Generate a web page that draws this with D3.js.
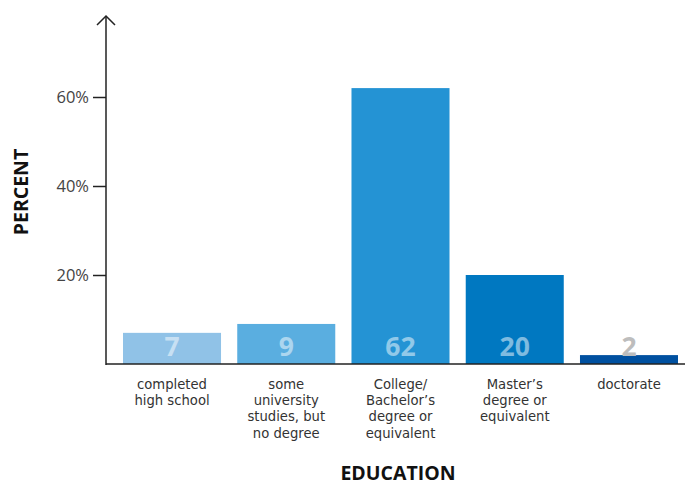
<!DOCTYPE html>
<html><head><meta charset="utf-8">
<script src="https://cdn.jsdelivr.net/npm/d3@7"></script>
<style>body{margin:0;background:#fff;}</style>
</head><body>
<svg id="c" width="685" height="486" font-family="'Open Sans',Lato,sans-serif"></svg>
<script>
const categories = [["completed","high school"],["some","university","studies, but","no degree"],["College/","Bachelor’s","degree or","equivalent"],["Master’s","degree or","equivalent"],["doctorate"]];
const values = [7, 9, 62, 20, 2];
const colors = ["#90c2e7","#5aaee0","#2493d4","#0078c1","#0050a0"];
const ticks = [20, 40, 60];

const svg = d3.select("#c");
const x0 = 106, base = 364, right = 685;
const y = d3.scaleLinear().domain([0, 20]).range([base, 275]);
const x = d3.scaleBand().domain(d3.range(values.length)).range([123, 678]).paddingInner(0.142).paddingOuter(0);

svg.selectAll("rect.bar").data(values).join("rect")
  .attr("x",(d,i)=>x(i)).attr("width",x.bandwidth())
  .attr("y",d=>y(d)).attr("height",d=>base-y(d))
  .attr("fill",(d,i)=>colors[i]);

svg.selectAll("text.val").data(values).join("text")
  .attr("x",(d,i)=>x(i)+x.bandwidth()/2).attr("y",base-8)
  .attr("text-anchor","middle").style("font-size","26.5px").style("font-weight",700)
  .style("font-family","'Open Sans',sans-serif")
  .attr("fill",(d,i)=>i===4?"#bdbdbd":"#fff").attr("fill-opacity",(d,i)=>i===4?1:0.5)
  .text(d=>d);

// y axis
const ya = d3.axisLeft(y).tickValues(ticks).tickSize(13).tickPadding(4).tickFormat(d=>d+"%");
const g = svg.append("g").attr("transform",`translate(${x0},0)`).call(ya);
g.select(".domain").remove();
g.selectAll(".tick line").attr("stroke","#222").attr("stroke-width",1.5);
g.selectAll(".tick text").style("font-size","16.5px").attr("fill","#444").style("font-family","'Open Sans',sans-serif");

svg.append("line").attr("x1",x0).attr("x2",x0).attr("y1",16).attr("y2",base+1).attr("stroke","#222").attr("stroke-width",1.5);
svg.append("path").attr("d",`M${x0-9},${25} L${x0},${16} L${x0+9},${25}`).attr("fill","none").attr("stroke","#222").attr("stroke-width",1.5);
svg.append("line").attr("x1",x0).attr("x2",right).attr("y1",base).attr("y2",base).attr("stroke","#222").attr("stroke-width",1.5);

// category labels
categories.forEach((lines,i)=>{
  const t = svg.append("text").attr("text-anchor","middle").attr("fill","#333")
    .style("font-size","13.2px").style("font-family","'DejaVu Sans',sans-serif");
  lines.forEach((l,j)=>t.append("tspan").attr("x",x(i)+x.bandwidth()/2).attr("y",389+j*16.2).text(l));
});

svg.append("text").attr("transform","translate(28,192) rotate(-90)").attr("text-anchor","middle")
  .style("font-size","19.5px").style("font-weight",700).style("font-family","'Open Sans',sans-serif").attr("fill","#111").text("PERCENT");
svg.append("text").attr("x",398).attr("y",480).attr("text-anchor","middle")
  .style("font-size","19.5px").style("font-weight",700).style("font-family","'Open Sans',sans-serif").attr("fill","#111").text("EDUCATION");
</script>
</body></html>
